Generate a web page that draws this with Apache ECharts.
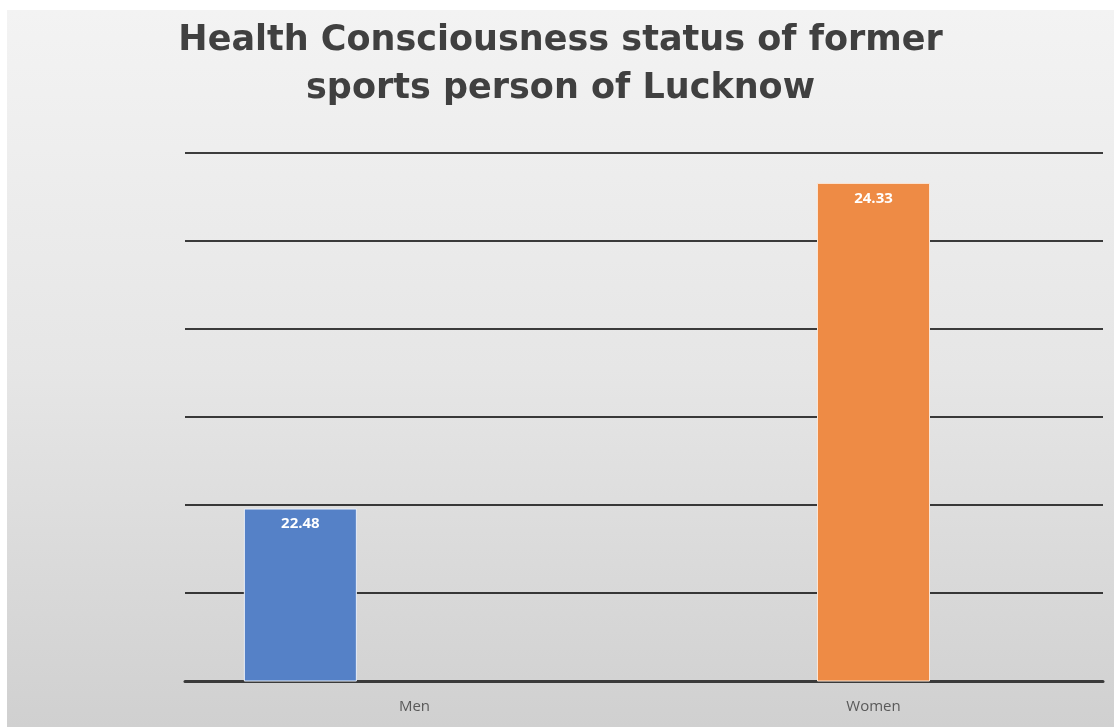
<!DOCTYPE html>
<html>
<head>
<meta charset="utf-8">
<script src="https://cdn.jsdelivr.net/npm/echarts@6/dist/echarts.min.js"></script>
<style>
  html, body { margin: 0; padding: 0; background: #fff; }
  #chart {
    position: absolute; left: 7px; top: 10px; width: 1107px; height: 717px;
    background: linear-gradient(to bottom, #f3f3f3 0%, #e6e6e6 50%, #d0d0d0 100%);
  }
</style>
</head>
<body>
<div id="chart"></div>
<script>
const categories = ['Men', 'Women'];
const menValues = [22.48, '-'];
const womenValues = ['-', 24.33];
const spareValues = ['-', '-'];

const chart = echarts.init(document.getElementById('chart'));

const label = {
  show: true, position: 'insideTop', distance: 8,
  color: '#fff', fontWeight: 'bold', fontSize: 15, fontFamily: 'Open Sans'
};

chart.setOption({
  title: {
    text: 'Health Consciousness status of former\nsports person of Lucknow',
    left: 'center', top: 2,
    textStyle: { fontFamily: 'DejaVu Sans', fontWeight: 'bold', fontSize: 35, color: '#404040', lineHeight: 48 }
  },
  grid: { left: 178, right: 11, top: 143, bottom: 46 },
  xAxis: {
    type: 'category', data: categories,
    axisTick: { show: false },
    axisLine: { lineStyle: { color: '#3a3a3a', width: 3 } },
    axisLabel: { color: '#595959', fontSize: 15, fontFamily: 'Open Sans', margin: 18 }
  },
  yAxis: {
    type: 'value', min: 21.5, max: 24.5, interval: 0.5,
    axisLabel: { show: false },
    axisLine: { show: false },
    splitLine: { lineStyle: { color: '#000', width: 1.5 } }
  },
  series: [
    { type: 'bar', name: 'Men', data: menValues, barWidth: 113, barGap: '1%',
      itemStyle: { color: '#5581c7', borderColor: '#e8eef8', borderWidth: 1 }, label },
    { type: 'bar', name: 'Women', data: womenValues, barWidth: 113, barGap: '1%',
      itemStyle: { color: '#ee8b45', borderColor: '#fbe6d6', borderWidth: 1 }, label },
    { type: 'bar', name: 'spare', data: spareValues, barWidth: 113, barGap: '1%' }
  ]
});
</script>
</body>
</html>
